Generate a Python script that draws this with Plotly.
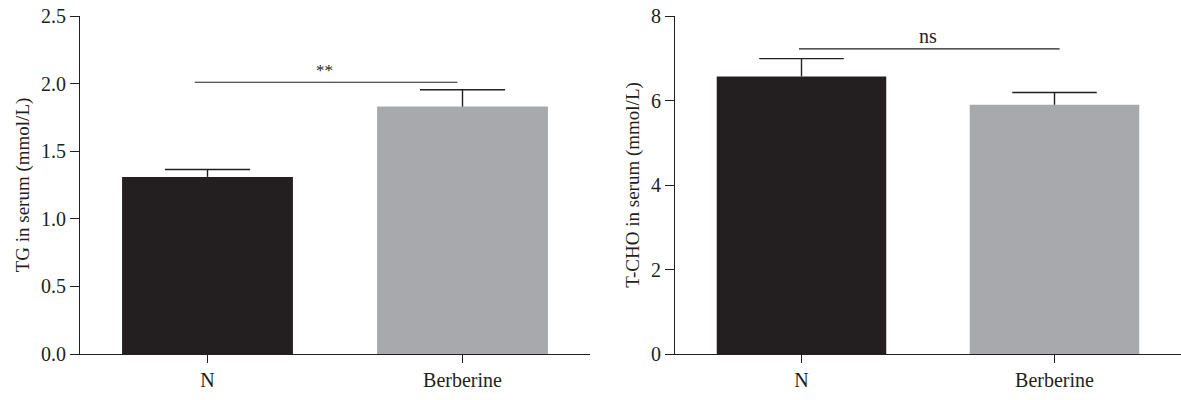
import plotly.graph_objects as go
from plotly.subplots import make_subplots

categories = ["N", "Berberine"]
tg_values = [1.31, 1.83]
tg_sem = [0.055, 0.125]
tcho_values = [6.57, 5.90]
tcho_sem = [0.42, 0.29]
bar_colors = ["#231f20", "#a7a9ac"]
tg_ticks = [0.0, 0.5, 1.0, 1.5, 2.0, 2.5]
tcho_ticks = [0, 2, 4, 6, 8]

W = 1181
fig = make_subplots(rows=1, cols=2)
line_col = "#231f20"
font_fam = "Liberation Serif, Times New Roman, serif"
CAP = 0.167  # half-width of the error-bar cap in category units

for col, vals, sem in [(1, tg_values, tg_sem), (2, tcho_values, tcho_sem)]:
    fig.add_trace(go.Bar(
        x=[0, 1], y=vals, marker=dict(color=bar_colors, line=dict(width=0)),
        width=0.67, showlegend=False), row=1, col=col)
    ex, ey = [], []
    for i, (v, s) in enumerate(zip(vals, sem)):
        ex += [i, i, None, i - CAP, i + CAP, None]
        ey += [v, v + s, None, v + s, v + s, None]
    fig.add_trace(go.Scatter(x=ex, y=ey, mode="lines",
                             line=dict(color=line_col, width=1.4),
                             showlegend=False, hoverinfo="skip"), row=1, col=col)

xcommon = dict(tickmode="array", tickvals=[0, 1], ticktext=categories,
               range=[-0.5, 1.5], showline=True, linecolor=line_col, linewidth=1.2,
               ticks="outside", ticklen=8, tickcolor=line_col, tickwidth=1.2,
               showgrid=False, zeroline=False,
               tickfont=dict(family=font_fam, size=20, color=line_col))
fig.update_xaxes(**xcommon)
fig.update_xaxes(domain=[80 / W, 590 / W], row=1, col=1)
fig.update_xaxes(domain=[675 / W, 1.0], row=1, col=2)

ycommon = dict(showline=True, linecolor=line_col, linewidth=1.2,
               ticks="outside", ticklen=9, tickcolor=line_col, tickwidth=1.2,
               showgrid=False, zeroline=False,
               tickfont=dict(family=font_fam, size=20, color=line_col),
               title_font=dict(family=font_fam, size=19, color=line_col))
fig.update_yaxes(**ycommon)
fig.update_yaxes(range=[0, 2.5], tickvals=tg_ticks, ticktext=[f"{v:.1f}" for v in tg_ticks],
                 title_text="TG in serum (mmol/L)", title_standoff=6, row=1, col=1)
fig.update_yaxes(range=[0, 8], tickvals=tcho_ticks, ticktext=[str(v) for v in tcho_ticks],
                 title_text="T-CHO in serum (mmol/L)", title_standoff=6, row=1, col=2)

# significance brackets
fig.add_shape(type="line", xref="x", yref="y", x0=-0.05, x1=0.98, y0=2.01, y1=2.01,
              line=dict(color=line_col, width=1.2))
fig.add_annotation(xref="x", yref="y", x=0.46, y=2.01, text="**", showarrow=False,
                   yanchor="bottom", yshift=0, font=dict(family=font_fam, size=17, color=line_col))
fig.add_shape(type="line", xref="x2", yref="y2", x0=-0.01, x1=1.02, y0=7.22, y1=7.22,
              line=dict(color=line_col, width=1.2))
fig.add_annotation(xref="x2", yref="y2", x=0.5, y=7.22, text="ns", showarrow=False,
                   yanchor="bottom", yshift=0, font=dict(family=font_fam, size=20, color=line_col))

fig.update_layout(width=1181, height=400, margin=dict(l=0, r=0, t=16, b=46),
                  plot_bgcolor="white", paper_bgcolor="white",
                  font=dict(family=font_fam, color=line_col))
fig.write_html("out.html", config={"displayModeBar": False},
               post_script="document.body.style.margin='0';")
